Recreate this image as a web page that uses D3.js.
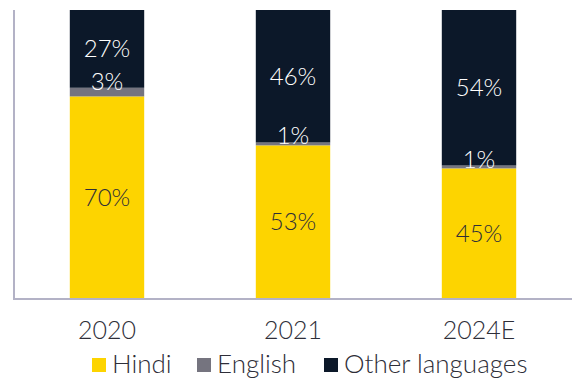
<!DOCTYPE html>
<html>
<head>
<meta charset="utf-8">
<script src="https://cdn.jsdelivr.net/npm/d3@7"></script>
<style>
  html, body { margin: 0; padding: 0; background: #fff; }
  svg { display: block; }
  text { font-family: Lato, "Noto Sans", sans-serif; font-weight: 300; }
</style>
</head>
<body>
<svg id="chart" width="572" height="378"></svg>
<script>
// Share of content by language (%)
const years = ["2020", "2021", "2024E"];
const seriesNames = ["Hindi", "English", "Other languages"];
const hindi = [70, 53, 45];
const english = [3, 1, 1];
const other = [27, 46, 54];
const colors = ["#FDD400", "#75747F", "#0C1829"];
const labelColors = ["#2E2E38", "#ffffff", "#ffffff"];

const W = 572, H = 378;
const plot = { left: 14, right: 572, top: 10, bottom: 298 };

const svg = d3.select("#chart");

const rows = years.map((y, i) => ({ year: y, Hindi: hindi[i], English: english[i], "Other languages": other[i] }));
const stacked = d3.stack().keys(seriesNames)(rows);

const x = d3.scaleBand()
  .domain(years)
  .range([plot.left, plot.right])
  .paddingInner(0.6)
  .paddingOuter(0.3);

const y = d3.scaleLinear().domain([0, 100]).range([plot.bottom, plot.top]);

// Stacked bars
const layer = svg.append("g").selectAll("g")
  .data(stacked)
  .join("g")
  .attr("fill", (d, i) => colors[i]);

layer.selectAll("rect")
  .data(d => d)
  .join("rect")
  .attr("x", d => x(d.data.year))
  .attr("width", x.bandwidth())
  .attr("y", d => y(d[1]))
  .attr("height", d => y(d[0]) - y(d[1]));

// Segment value labels
stacked.forEach((s, si) => {
  svg.append("g").selectAll("text")
    .data(s)
    .join("text")
    .attr("x", d => x(d.data.year) + x.bandwidth() / 2)
    .attr("y", d => {
      const v = d[1] - d[0];
      if (v < 5) return y(d[1]) + 2;            // thin segment: label sits on its top edge
      return (y(d[0]) + y(d[1])) / 2 + 8.5;      // otherwise centred in the segment
    })
    .attr("text-anchor", "middle")
    .attr("font-size", 24)
    .attr("fill", d => (d[1] - d[0]) < 5 ? "#ffffff" : labelColors[si])
    .text(d => (d[1] - d[0]) + "%");
});

// Axis lines
svg.append("line")
  .attr("x1", plot.left).attr("x2", plot.left)
  .attr("y1", plot.top).attr("y2", plot.bottom + 1)
  .attr("stroke", "#B3B2C6").attr("stroke-width", 2);
svg.append("line")
  .attr("x1", plot.left - 1).attr("x2", W)
  .attr("y1", plot.bottom + 1).attr("y2", plot.bottom + 1)
  .attr("stroke", "#B3B2C6").attr("stroke-width", 2);

// Category labels
const xAxis = svg.append("g")
  .attr("transform", `translate(0,${plot.bottom + 1})`)
  .call(d3.axisBottom(x).tickSize(0).tickPadding(22));
xAxis.select(".domain").remove();
xAxis.selectAll("text")
  .attr("font-size", 25)
  .attr("fill", "#2E2E38")
  .attr("font-family", "Lato, 'Noto Sans', sans-serif");

// Legend
const legendItems = [
  { name: seriesNames[0], color: colors[0], x: 92 },
  { name: seriesNames[1], color: colors[1], x: 197 },
  { name: seriesNames[2], color: colors[2], x: 324 }
];
const legend = svg.append("g");
legendItems.forEach(it => {
  legend.append("rect")
    .attr("x", it.x).attr("y", 358)
    .attr("width", 14).attr("height", 14)
    .attr("fill", it.color);
  legend.append("text")
    .attr("x", it.x + 20).attr("y", 372.5)
    .attr("font-size", 26)
    .attr("fill", "#2E2E38")
    .text(it.name);
});
</script>
</body>
</html>
